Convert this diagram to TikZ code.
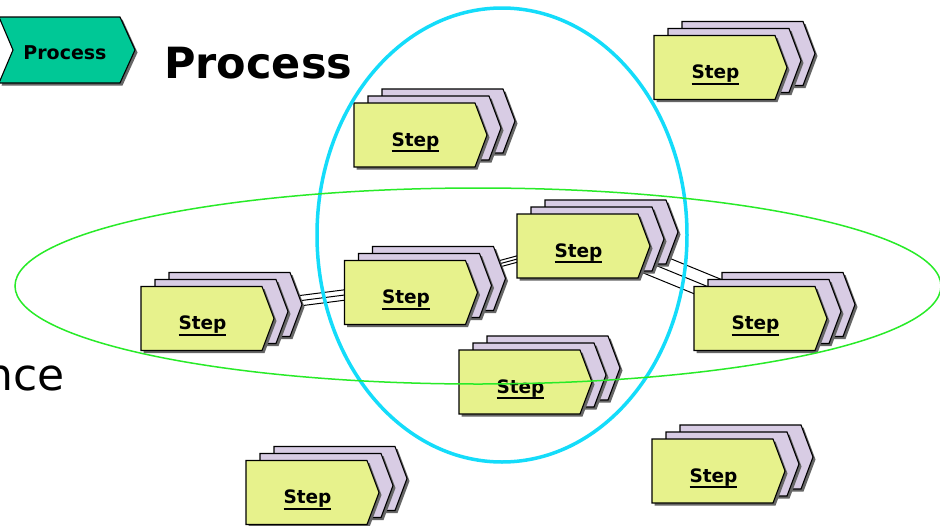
\documentclass[tikz,border=0pt]{standalone}
\usepackage{fontspec}
\setmainfont{DejaVu Sans}
\pgfdeclarelayer{bg}
\pgfsetlayers{bg,main}
\definecolor{stepfront}{RGB}{231,242,140}
\definecolor{stepback}{RGB}{216,204,228}
\definecolor{processc}{RGB}{0,200,150}
\definecolor{cyanring}{RGB}{20,220,250}
\definecolor{greenring}{RGB}{40,235,40}
\newcommand{\ulx}[1]{\setbox0=\hbox{#1}\makebox[0pt][l]{\rule[-6pt]{\wd0}{1.8pt}}\box0}
\tikzset{
  stepline/.style={draw=black, line width=1.1pt, line join=miter},
  stepshadow/.style={fill=black!60},
  layerbox/.style={draw=none, fill=none, minimum width=121pt, minimum height=64pt, inner sep=0pt},
  steplabel/.style={anchor=base, inner sep=0pt, font=\fontsize{18.5}{20}\selectfont\bfseries},
  conn/.style={draw=black, line width=1pt},
}
\newcommand{\chevlayer}[3]{%
  \begin{scope}[shift={(#1,#2)}]
    \fill[stepshadow] (-58,-29.5) -- (63,-29.5) -- (75,2.5) -- (63,34.5) -- (-58,34.5) -- cycle;
    \draw[stepline, fill=#3] (-60.5,-32) -- (60.5,-32) -- (72.5,0) -- (60.5,32) -- (-60.5,32) -- cycle;
  \end{scope}
}
\newcommand{\stepstack}[4]{%
  \chevlayer{#2+28}{#3-14}{stepback}
  \node[layerbox] (#1b) at (#2+28,#3-14) {};
  \chevlayer{#2+14}{#3-7}{stepback}
  \node[layerbox] (#1m) at (#2+14,#3-7) {};
  \chevlayer{#2}{#3}{stepfront}
  \node[layerbox] (#1f) at (#2,#3) {};
  \node[steplabel] (#1t) at (#2+1,#3+11) {\ulx{#4}};
}
\begin{document}
\begin{tikzpicture}[x=1pt, y=-1pt]
\useasboundingbox (0,0) rectangle (940,525);
\begin{pgfonlayer}{bg}
  \fill[white] (0,0) rectangle (940,525);
\end{pgfonlayer}
\clip (0,0) rectangle (940,525);

% process chevron
\fill[stepshadow] (1.5,19.5) -- (122.5,19.5) -- (137.5,52.5) -- (122.5,85.5) -- (1.5,85.5) -- (15.5,52.5) -- cycle;
\draw[stepline, fill=processc] (-1,17) -- (120,17) -- (135,50) -- (120,83) -- (-1,83) -- (13,50) -- cycle;
\node[anchor=base, inner sep=0pt, font=\fontsize{19}{21}\selectfont\bfseries] (proc) at (65,59) {Process};
\node[anchor=base west, inner sep=0pt, font=\fontsize{43}{50}\selectfont\bfseries] (title) at (164,78) {Process};
\node[anchor=base east, inner sep=0pt, font=\fontsize{44}{50}\selectfont] (nce) at (64.5,390) {nce};

% stacks
\stepstack{A}{414.5}{135}{Step}
\stepstack{B}{714.5}{67.5}{Step}
\stepstack{C}{201.5}{318.5}{Step}
\stepstack{D}{405}{292.5}{Step}
\stepstack{E}{577.5}{246}{Step}
\stepstack{F}{754.5}{318.5}{Step}
\stepstack{G}{519.5}{382}{Step}
\stepstack{H}{306.5}{492.5}{Step}
\stepstack{I}{712.5}{471}{Step}

% connectors behind the stacks
\begin{pgfonlayer}{bg}
  \foreach \s/\t in {C/D, D/E, E/F} {
    \draw[conn] (\s b.center) -- (\t b.center);
    \draw[conn] (\s m.center) -- (\t m.center);
    \draw[conn] (\s f.center) -- (\t f.center);
  }
\end{pgfonlayer}

% rings
\draw[cyanring, line width=3.5pt] (502,235) ellipse [x radius=185, y radius=227];
\draw[greenring, line width=1.5pt] (478,286) ellipse [x radius=463, y radius=98];
\end{tikzpicture}
\end{document}
